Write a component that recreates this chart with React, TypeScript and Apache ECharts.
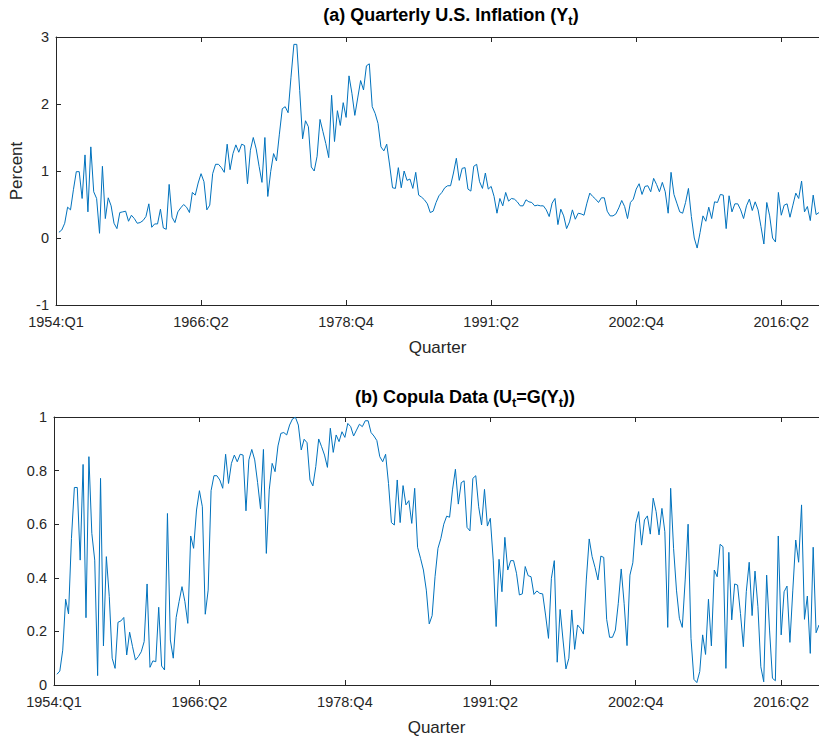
import React, { useEffect, useRef } from "react";
import * as echarts from "echarts";

// Tick labels shown every 50 observations on the x axis
const quarterTickLabels = ["1954:Q1", "1966:Q2", "1978:Q4", "1991:Q2", "2002:Q4", "2016:Q2"];
const tickStep = 50;

// (a) Quarterly U.S. inflation, percent (observations 1..263)
const inflation = [
  0.085, 0.12, 0.22, 0.46, 0.42, 0.72, 0.99, 0.99, 0.59, 1.24,
  0.39, 1.36, 0.69, 0.59, 0.07, 1.07, 0.29, 0.60, 0.48, 0.22,
  0.14, 0.38, 0.39, 0.40, 0.25, 0.34, 0.29, 0.22, 0.23, 0.26,
  0.32, 0.51, 0.16, 0.21, 0.21, 0.43, 0.15, 0.13, 0.80, 0.31,
  0.23, 0.39, 0.45, 0.50, 0.46, 0.38, 0.68, 0.64, 0.82, 0.96,
  0.84, 0.42, 0.49, 0.96, 1.10, 1.10, 1.05, 0.98, 1.40, 1.02,
  1.26, 1.39, 1.28, 1.40, 1.38, 0.81, 1.31, 1.50, 1.33, 1.07,
  0.83, 1.50, 0.62, 0.99, 1.26, 1.15, 1.55, 1.93, 1.96, 1.87,
  2.40, 2.89, 2.89, 2.20, 1.48, 1.75, 1.66, 1.06, 1.00, 1.22,
  1.77, 1.59, 1.41, 1.20, 2.13, 1.44, 1.90, 1.68, 2.02, 1.80,
  2.42, 2.16, 1.83, 2.09, 2.35, 2.21, 2.57, 2.60, 1.96, 1.86,
  1.71, 1.36, 1.30, 1.40, 1.09, 0.75, 0.74, 1.05, 0.75, 1.00,
  0.86, 0.88, 0.74, 0.98, 0.64, 0.61, 0.57, 0.51, 0.38, 0.40,
  0.53, 0.63, 0.68, 0.75, 0.78, 0.78, 0.97, 1.19, 0.86, 1.04,
  1.05, 0.73, 0.70, 1.07, 1.10, 0.84, 0.74, 0.97, 0.73, 0.77,
  0.62, 0.37, 0.59, 0.48, 0.68, 0.55, 0.59, 0.58, 0.54, 0.48,
  0.48, 0.57, 0.54, 0.53, 0.48, 0.49, 0.48, 0.48, 0.42, 0.32,
  0.52, 0.59, 0.20, 0.43, 0.33, 0.14, 0.24, 0.42, 0.28, 0.37,
  0.36, 0.34, 0.52, 0.67, 0.62, 0.58, 0.53, 0.60, 0.60, 0.40,
  0.33, 0.33, 0.36, 0.45, 0.56, 0.47, 0.29, 0.53, 0.58, 0.73,
  0.81, 0.65, 0.77, 0.78, 0.69, 0.89, 0.80, 0.69, 0.83, 0.69,
  0.37, 0.98, 0.65, 0.52, 0.39, 0.37, 0.53, 0.74, 0.32, 0.00,
  -0.15, 0.08, 0.33, 0.25, 0.46, 0.29, 0.54, 0.53, 0.65, 0.64,
  0.14, 0.63, 0.39, 0.51, 0.51, 0.42, 0.29, 0.48, 0.58, 0.41,
  0.54, 0.42, 0.17, -0.09, 0.53, 0.33, 0.00, -0.06, 0.68, 0.34,
  0.49, 0.51, 0.31, 0.49, 0.67, 0.59, 0.85, 0.39, 0.47, 0.26,
  0.64, 0.35, 0.38,
];

// (b) Copula data U_t = G(Y_t)
const copula = [
  0.04, 0.052, 0.13, 0.32, 0.265, 0.547, 0.737, 0.737, 0.466, 0.823,
  0.251, 0.852, 0.566, 0.466, 0.035, 0.771, 0.146, 0.479, 0.33, 0.10,
  0.062, 0.234, 0.239, 0.252, 0.112, 0.197, 0.143, 0.093, 0.106, 0.124,
  0.162, 0.377, 0.066, 0.09, 0.087, 0.29, 0.071, 0.056, 0.64, 0.168,
  0.10, 0.252, 0.311, 0.367, 0.311, 0.23, 0.556, 0.51, 0.653, 0.725,
  0.665, 0.264, 0.354, 0.725, 0.781, 0.781, 0.765, 0.734, 0.861, 0.752,
  0.827, 0.858, 0.833, 0.861, 0.858, 0.65, 0.84, 0.879, 0.84, 0.755,
  0.657, 0.879, 0.491, 0.728, 0.827, 0.796, 0.892, 0.939, 0.942, 0.933,
  0.97, 0.993, 0.999, 0.97, 0.877, 0.917, 0.904, 0.765, 0.743, 0.815,
  0.918, 0.889, 0.858, 0.812, 0.958, 0.868, 0.933, 0.908, 0.945, 0.924,
  0.976, 0.964, 0.929, 0.951, 0.973, 0.964, 0.986, 0.986, 0.942, 0.929,
  0.912, 0.852, 0.833, 0.861, 0.752, 0.606, 0.597, 0.765, 0.606, 0.744,
  0.672, 0.688, 0.603, 0.734, 0.514, 0.473, 0.429, 0.354, 0.228, 0.259,
  0.404, 0.51, 0.547, 0.60, 0.63, 0.626, 0.728, 0.805, 0.675, 0.755,
  0.762, 0.588, 0.575, 0.771, 0.781, 0.665, 0.597, 0.73, 0.593, 0.622,
  0.466, 0.218, 0.469, 0.348, 0.551, 0.429, 0.464, 0.464, 0.417, 0.336,
  0.34, 0.442, 0.408, 0.404, 0.338, 0.351, 0.342, 0.34, 0.261, 0.174,
  0.398, 0.464, 0.085, 0.282, 0.168, 0.06, 0.10, 0.28, 0.133, 0.224,
  0.211, 0.19, 0.392, 0.545, 0.479, 0.439, 0.392, 0.481, 0.476, 0.245,
  0.178, 0.178, 0.205, 0.305, 0.433, 0.305, 0.147, 0.41, 0.456, 0.603,
  0.647, 0.522, 0.616, 0.631, 0.563, 0.697, 0.647, 0.56, 0.659, 0.572,
  0.215, 0.734, 0.51, 0.354, 0.249, 0.215, 0.392, 0.60, 0.174, 0.021,
  0.009, 0.05, 0.187, 0.114, 0.32, 0.146, 0.429, 0.404, 0.525, 0.516,
  0.062, 0.495, 0.243, 0.377, 0.373, 0.267, 0.143, 0.348, 0.458, 0.259,
  0.425, 0.292, 0.068, 0.012, 0.41, 0.205, 0.025, 0.016, 0.556, 0.187,
  0.348, 0.369, 0.159, 0.354, 0.541, 0.458, 0.672, 0.245, 0.332, 0.118,
  0.514, 0.195, 0.224,
];

const inflationYTicks = { min: -1, max: 3, interval: 1 };
const copulaYTicks = { min: 0, max: 1, interval: 0.2 };

export default function App() {
  const ref = useRef<HTMLDivElement>(null);

  useEffect(() => {
    if (!ref.current) return;
    const chart = echarts.init(ref.current, null, { renderer: "svg" });
    const axisColor = "#262626";
    const font = "'Liberation Sans', Arial, Helvetica, sans-serif";
    const xMax = inflation.length;

    const bottomX = (gridIndex: number) => ({
      type: "value",
      gridIndex,
      min: 0,
      max: xMax,
      interval: tickStep,
      position: "bottom",
      name: "Quarter",
      nameLocation: "middle",
      nameGap: 34,
      nameTextStyle: { color: axisColor, fontSize: 17, fontFamily: font },
      axisLine: { show: true, onZero: false, lineStyle: { color: axisColor, width: 1 } },
      axisTick: { show: true, inside: true, length: 5, lineStyle: { color: axisColor } },
      axisLabel: {
        color: axisColor,
        fontSize: 14.5,
        fontFamily: font,
        margin: 9,
        showMaxLabel: false,
        formatter: (v: number) =>
          v % tickStep === 0 ? quarterTickLabels[v / tickStep] ?? "" : "",
      },
      splitLine: { show: false },
    });
    const topX = (gridIndex: number) => ({
      type: "value",
      gridIndex,
      min: 0,
      max: xMax,
      interval: tickStep,
      position: "top",
      axisLine: { show: true, onZero: false, lineStyle: { color: axisColor, width: 1 } },
      axisTick: { show: true, inside: true, length: 5, lineStyle: { color: axisColor } },
      axisLabel: { show: false },
      splitLine: { show: false },
    });
    const leftY = (gridIndex: number, t: any, name: string, fmt: (v: number) => string) => ({
      type: "value",
      gridIndex,
      min: t.min,
      max: t.max,
      interval: t.interval,
      name,
      nameLocation: "middle",
      nameGap: 31,
      nameTextStyle: { color: axisColor, fontSize: 17, fontFamily: font },
      axisLine: { show: true, onZero: false, lineStyle: { color: axisColor, width: 1 } },
      axisTick: { show: true, inside: true, length: 5, lineStyle: { color: axisColor } },
      axisLabel: { color: axisColor, fontSize: 14.5, fontFamily: font, margin: 7, formatter: fmt },
      splitLine: { show: false },
    });

    const titleRich = {
      a: { fontSize: 18, fontWeight: "bold", fontFamily: font, color: "#000", lineHeight: 24, verticalAlign: "middle" },
      s: { fontSize: 13, fontWeight: "bold", fontFamily: font, color: "#000", lineHeight: 13, verticalAlign: "bottom" },
    } as any;

    chart.setOption({
      animation: false,
      backgroundColor: "#fff",
      grid: [
        { left: 54, top: 37, width: 765, height: 268, containLabel: false },
        { left: 54, top: 417, width: 765, height: 268, containLabel: false },
      ],
      xAxis: [bottomX(0), topX(0), bottomX(1), topX(1)],
      yAxis: [
        leftY(0, inflationYTicks, "Percent", (v: number) => String(v)),
        leftY(1, copulaYTicks, "", (v: number) => String(+v.toFixed(1))),
      ],
      graphic: [
        {
          type: "text",
          x: 451,
          y: 15,
          style: {
            text: "{a|(a) Quarterly U.S. Inflation (Y}{s|t}{a|)}",
            rich: titleRich,
            align: "center",
            verticalAlign: "middle",
          },
        },
        {
          type: "text",
          x: 465,
          y: 397,
          style: {
            text: "{a|(b) Copula Data (U}{s|t}{a|=G(Y}{s|t}{a|))}",
            rich: titleRich,
            align: "center",
            verticalAlign: "middle",
          },
        },
      ],
      series: [
        {
          type: "line",
          xAxisIndex: 0,
          yAxisIndex: 0,
          data: inflation.map((v, i) => [i + 1, v]),
          showSymbol: false,
          lineStyle: { color: "#0072BD", width: 1 },
          itemStyle: { color: "#0072BD" },
        },
        {
          type: "line",
          xAxisIndex: 2,
          yAxisIndex: 1,
          data: copula.map((v, i) => [i + 1, v]),
          showSymbol: false,
          lineStyle: { color: "#0072BD", width: 1 },
          itemStyle: { color: "#0072BD" },
        },
      ],
    });
    return () => chart.dispose();
  }, []);

  return (
    <div
      ref={ref}
      style={{ position: "fixed", left: 0, top: 0, width: 819, height: 739, background: "#fff" }}
    />
  );
}
